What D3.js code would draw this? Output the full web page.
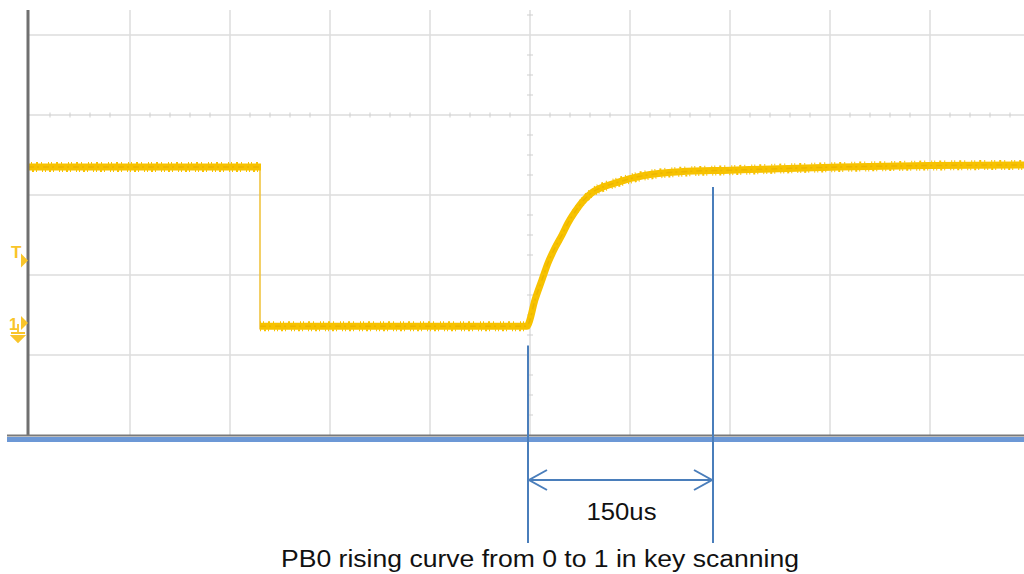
<!DOCTYPE html>
<html>
<head>
<meta charset="utf-8">
<script src="https://cdn.jsdelivr.net/npm/d3@7"></script>
<style>
  body { margin: 0; background: #fff; }
  #chart { width: 1024px; height: 574px; }
  text { font-family: Arial, "Liberation Sans", sans-serif; }
</style>
</head>
<body>
<div id="chart"></div>
<script>
// grid divisions (scope screen), x and y in divisions
const gridX = [1, 2, 3, 4, 5, 6, 7, 8, 9];
const gridY = [1, 2, 3, 4, 5];
const centerX = 5;   // vertical line with minor ticks
const centerY = 4;   // horizontal line with minor ticks

// trace (divisions)
const highX = [-0.02, 2.31];
const highY = [3.35, 3.35];
const fallX = [2.30, 2.30];
const fallY = [3.35, 1.32];
const riseX = [2.30, 4.97, 4.98, 5.05, 5.12, 5.18, 5.25, 5.32, 5.38, 5.45, 5.52, 5.62, 5.75, 5.88, 6.02, 6.13, 6.50, 7.00, 8.10, 9.94, 10.0];
const riseY = [1.36, 1.36, 1.375, 1.69, 1.94, 2.15, 2.34, 2.50, 2.65, 2.79, 2.91, 3.03, 3.11, 3.16, 3.21, 3.24, 3.29, 3.31, 3.35, 3.375, 3.375];

// annotation
const markStart = 4.98;
const markEnd = 6.83;
const markLabel = "150us";
const caption = "PB0 rising curve from 0 to 1 in key scanning";

const width = 1024, height = 574;

const svg = d3.select("#chart")
    .append("svg")
    .attr("width", width)
    .attr("height", height);

const xScale = d3.scaleLinear().domain([0, 10]).range([30, 1030]);
const yScale = d3.scaleLinear().domain([0, 5]).range([435, 35]);
const yTop = 5.3125;

const gridColor = "#dcdcdc";

// grid
svg.append("g").selectAll("line")
    .data(gridX)
    .enter().append("line")
        .attr("x1", d => xScale(d)).attr("x2", d => xScale(d))
        .attr("y1", yScale(yTop)).attr("y2", yScale(0))
        .attr("stroke", gridColor).attr("stroke-width", 1.5);

svg.append("g").selectAll("line")
    .data(gridY)
    .enter().append("line")
        .attr("x1", 28).attr("x2", width)
        .attr("y1", d => yScale(d)).attr("y2", d => yScale(d))
        .attr("stroke", gridColor).attr("stroke-width", 1.5);

// minor ticks on the centre lines
const minorX = d3.range(0, 10.01, 0.2).filter(d => Math.abs(d - Math.round(d)) > 0.01);
svg.append("g").selectAll("line")
    .data(minorX)
    .enter().append("line")
        .attr("x1", d => xScale(d)).attr("x2", d => xScale(d))
        .attr("y1", yScale(centerY) - 2.5).attr("y2", yScale(centerY) + 2.5)
        .attr("stroke", "#cfcfcf").attr("stroke-width", 1);

const minorY = d3.range(0, yTop, 0.25).filter(d => Math.abs(d - Math.round(d)) > 0.01);
svg.append("g").selectAll("line")
    .data(minorY)
    .enter().append("line")
        .attr("x1", xScale(centerX) - 3).attr("x2", xScale(centerX) + 3)
        .attr("y1", d => yScale(d)).attr("y2", d => yScale(d))
        .attr("stroke", "#cfcfcf").attr("stroke-width", 1);

// trace
const line = d3.line()
    .x(d => xScale(d[0]))
    .y(d => yScale(d[1]))
    .curve(d3.curveMonotoneX);

const highPts = d3.zip(highX, highY);
const fallPts = d3.zip(fallX, fallY);
const risePts = d3.zip(riseX, riseY);

const trace = svg.append("g");

trace.append("path")
    .attr("d", line(fallPts))
    .attr("fill", "none")
    .attr("stroke", "#f0c440")
    .attr("stroke-width", 1.6);

[highPts, risePts].forEach(function(pts) {
    // main band
    trace.append("path")
        .attr("d", line(pts))
        .attr("fill", "none")
        .attr("stroke", "#f7c200")
        .attr("stroke-width", 7)
        .attr("stroke-linejoin", "round");
    // ragged edges (noise texture)
    [-4, 4].forEach(function(off, i) {
        trace.append("path")
            .attr("d", line(pts))
            .attr("transform", `translate(0,${off})`)
            .attr("fill", "none")
            .attr("stroke", "#f7c200")
            .attr("stroke-width", 2)
            .attr("stroke-dasharray", i ? "1,3,2,2,1,5,1,2" : "1,2,1,4,2,3,1,6");
    });
    // darker striation along the centre
    trace.append("path")
        .attr("d", line(pts))
        .attr("fill", "none")
        .attr("stroke", "#e0a600")
        .attr("stroke-width", 1.5)
        .attr("stroke-opacity", 0.45)
        .attr("stroke-dasharray", "6,3,2,4");
});

// left axis line
svg.append("line")
    .attr("x1", 28).attr("x2", 28)
    .attr("y1", yScale(yTop)).attr("y2", yScale(0) + 1)
    .attr("stroke", "#707070").attr("stroke-width", 3);

// bottom frame lines
svg.append("line")
    .attr("x1", 7).attr("x2", width)
    .attr("y1", yScale(0) + 0.5).attr("y2", yScale(0) + 0.5)
    .attr("stroke", "#7a7a7a").attr("stroke-width", 2);
svg.append("line")
    .attr("x1", 7).attr("x2", width)
    .attr("y1", yScale(0) + 4.5).attr("y2", yScale(0) + 4.5)
    .attr("stroke", "#6c98d6").attr("stroke-width", 5);

// channel markers on the left
const mkColor = "#f9c52a";
const mk = svg.append("g").attr("fill", mkColor);
const tY = yScale(2.18), gY = yScale(1.40);
mk.append("text")
    .attr("x", 11).attr("y", 258)
    .attr("font-size", 17).attr("font-weight", "bold")
    .text("T");
mk.append("path")
    .attr("d", `M21,${tY - 7} L28,${tY} L21,${tY + 7} Z`);
mk.append("text")
    .attr("x", 9).attr("y", 330)
    .attr("font-size", 16).attr("font-weight", "bold")
    .text("1");
mk.append("path")
    .attr("d", `M21,${gY - 7} L28,${gY} L21,${gY + 7} Z`);
mk.append("path")
    .attr("d", "M18,324 L18,333 M11,333 L25,333 M12,336 L24,336 L18,342 Z")
    .attr("stroke", mkColor).attr("stroke-width", 1.8);

// annotation
const blue = "#4a7ebb";
const ann = svg.append("g")
    .attr("stroke", blue)
    .attr("stroke-width", 2)
    .attr("fill", "none");

ann.append("line")
    .attr("x1", xScale(markStart)).attr("x2", xScale(markStart))
    .attr("y1", yScale(1.12)).attr("y2", yScale(-1.35));
ann.append("line")
    .attr("x1", xScale(markEnd)).attr("x2", xScale(markEnd))
    .attr("y1", yScale(3.1)).attr("y2", yScale(-1.35));

const ay = yScale(-0.5625);
const x0 = xScale(markStart) + 1, x1 = xScale(markEnd) - 1;
ann.append("line")
    .attr("x1", x0).attr("x2", x1)
    .attr("y1", ay).attr("y2", ay);
ann.append("path")
    .attr("d", `M${x0 + 18},${ay - 10} L${x0},${ay} L${x0 + 18},${ay + 10}`);
ann.append("path")
    .attr("d", `M${x1 - 18},${ay - 10} L${x1},${ay} L${x1 - 18},${ay + 10}`);

svg.append("text")
    .attr("x", (xScale(markStart) + xScale(markEnd)) / 2 + 1)
    .attr("y", 520)
    .attr("text-anchor", "middle")
    .attr("font-size", 23)
    .attr("textLength", 70)
    .attr("lengthAdjust", "spacingAndGlyphs")
    .attr("fill", "#111")
    .text(markLabel);

svg.append("text")
    .attr("x", 540)
    .attr("y", 567)
    .attr("text-anchor", "middle")
    .attr("font-size", 23)
    .attr("textLength", 518)
    .attr("lengthAdjust", "spacingAndGlyphs")
    .attr("fill", "#111")
    .text(caption);
</script>
</body>
</html>
